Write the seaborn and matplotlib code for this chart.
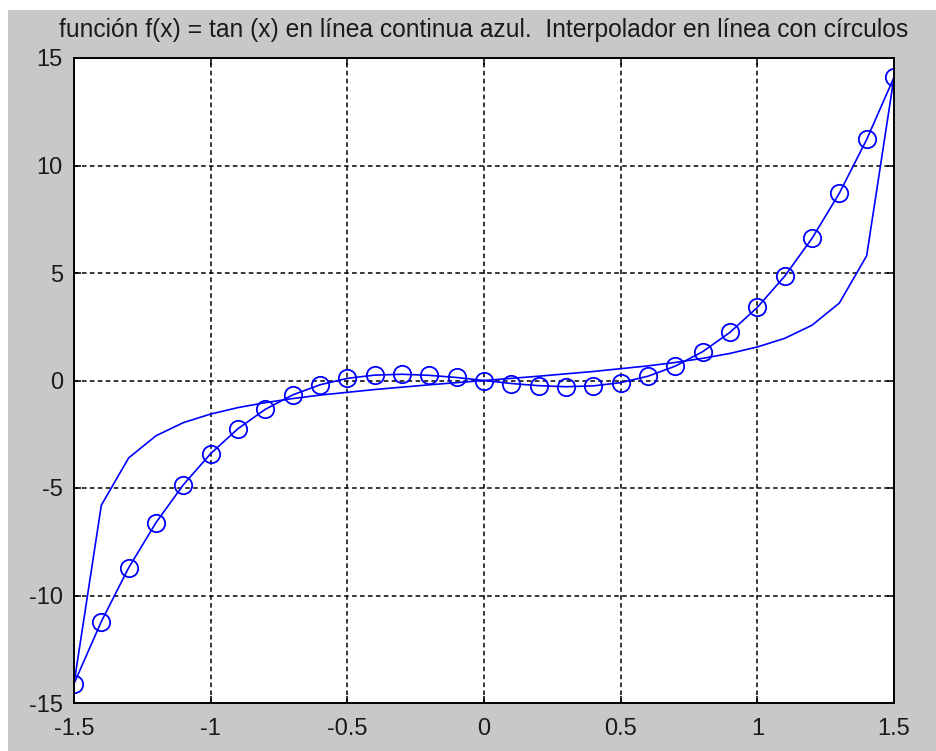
import matplotlib
matplotlib.use("Agg")
import matplotlib.pyplot as plt
import matplotlib.patches as mpatches
import seaborn as sns
import pandas as pd

# Nodes where both curves are sampled
x_nodes = [-1.5, -1.4, -1.3, -1.2, -1.1, -1.0, -0.9, -0.8, -0.7, -0.6, -0.5,
           -0.4, -0.3, -0.2, -0.1, 0.0, 0.1, 0.2, 0.3, 0.4, 0.5,
           0.6, 0.7, 0.8, 0.9, 1.0, 1.1, 1.2, 1.3, 1.4, 1.5]

# f(x) = tan(x) at the nodes
tan_values = [-14.10, -5.80, -3.60, -2.57, -1.96, -1.56, -1.26, -1.03, -0.84, -0.68, -0.55,
              -0.42, -0.31, -0.20, -0.10, 0.00, 0.10, 0.20, 0.31, 0.42, 0.55,
              0.68, 0.84, 1.03, 1.26, 1.56, 1.96, 2.57, 3.60, 5.80, 14.10]

# Interpolating polynomial at the nodes
interp_values = [-14.10, -11.21, -8.71, -6.61, -4.85, -3.40, -2.24, -1.34, -0.67, -0.20, 0.10,
                 0.25, 0.29, 0.24, 0.14, 0.00, -0.14, -0.24, -0.29, -0.25, -0.10,
                 0.20, 0.67, 1.34, 2.24, 3.40, 4.85, 6.61, 8.71, 11.21, 14.10]

x_ticks = [-1.5, -1, -0.5, 0, 0.5, 1, 1.5]
x_tick_labels = ["-1.5", "-1", "-0.5", "0", "0.5", "1", "1.5"]
y_ticks = [-15, -10, -5, 0, 5, 10, 15]
y_tick_labels = ["-15", "-10", "-5", "0", "5", "10", "15"]

title = "función f(x) = tan (x) en línea continua azul.  Interpolador en línea con círculos"

sns.set_style("white")
plt.rcParams["font.family"] = ["Liberation Sans", "DejaVu Sans"]

df = pd.DataFrame({"x": x_nodes, "tan": tan_values, "interp": interp_values})

fig = plt.figure(figsize=(9.37, 7.51), dpi=100, facecolor="white")
# grey window background with a thin white margin at top and left
fig.patches.append(mpatches.Rectangle((8 / 937, 0), 1, 1 - 10 / 751,
                                      transform=fig.transFigure,
                                      facecolor="#c8c8c8", edgecolor="none", zorder=-10))

ax = fig.add_axes([74 / 937, 48 / 751, 820 / 937, 645 / 751])
ax.set_zorder(5)
ax.set_facecolor("white")

sns.lineplot(data=df, x="x", y="tan", ax=ax, color="#0000ff", linewidth=1.2,
             estimator=None, sort=False)
sns.lineplot(data=df, x="x", y="interp", ax=ax, color="#0000ff", linewidth=1.2,
             marker="o", markersize=12.5, markerfacecolor="none",
             markeredgecolor="#0000ff", markeredgewidth=1.3,
             estimator=None, sort=False)

ax.set_xlim(-1.5, 1.5)
ax.set_ylim(-15, 15)
ax.set_xticks(x_ticks)
ax.set_xticklabels(x_tick_labels)
ax.set_yticks(y_ticks)
ax.set_yticklabels(y_tick_labels)
ax.set_xlabel("")
ax.set_ylabel("")

ax.grid(True, color="black", linestyle=(0, (3.0, 2.2)), linewidth=1.1)
ax.set_axisbelow(True)
for s in ax.spines.values():
    s.set_visible(True)
    s.set_color("black")
    s.set_linewidth(1.4)

ax.tick_params(axis="both", which="major", direction="in", length=5, width=1.1,
               color="black", labelsize=17, labelcolor="#1a1a1a",
               top=True, right=True, bottom=True, left=True)
ax.tick_params(axis="x", pad=11)
ax.tick_params(axis="y", pad=8)

ax.set_title(title, fontsize=17.7, pad=15, color="#1a1a1a")

fig.savefig("out.png", dpi=100, facecolor=fig.get_facecolor())
